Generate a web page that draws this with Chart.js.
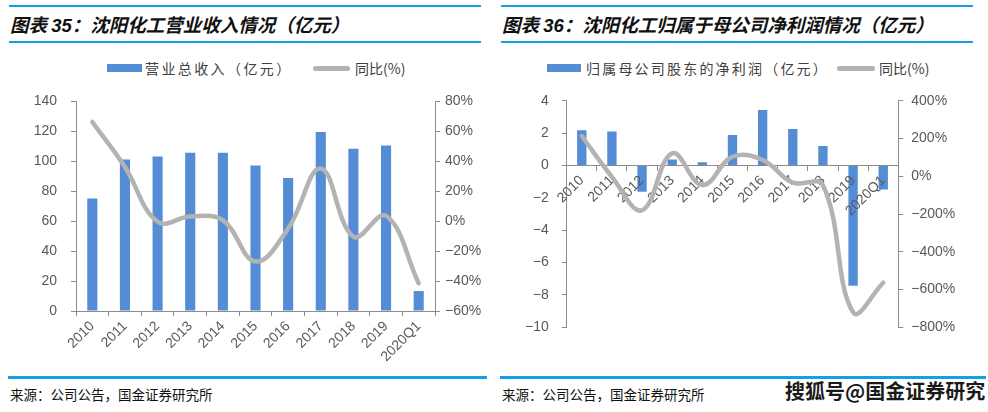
<!DOCTYPE html>
<html><head><meta charset="utf-8">
<script src="https://cdn.jsdelivr.net/npm/chart.js@4.4.0/dist/chart.umd.min.js"></script>
<style>
html,body{margin:0;padding:0;background:#fff;}
body{width:988px;height:412px;position:relative;overflow:hidden;font-family:"Noto Sans CJK SC","Noto Sans",sans-serif;}
.bl{position:absolute;background:#16a0e4;}
.title{position:absolute;font-weight:bold;font-style:italic;font-size:18.5px;line-height:24px;color:#111;white-space:nowrap;}
.title .n{font-family:"Liberation Sans",Arial,sans-serif;}
.leg{position:absolute;font-size:14px;line-height:18px;color:#404040;white-space:nowrap;}
.sw{position:absolute;}
.src{position:absolute;font-size:13.5px;line-height:18px;color:#111;white-space:nowrap;}
.wm{position:absolute;font-size:20px;font-weight:bold;line-height:24px;color:#1a1a1a;white-space:nowrap;text-shadow:0 0 2px #fff,0 0 2px #fff;}
canvas{position:absolute;}
</style>
</head><body>
<div class="bl" style="left:9px;top:5px;width:472px;height:2px"></div>
<div class="bl" style="left:9px;top:41px;width:472px;height:2px"></div>
<div class="bl" style="left:501px;top:5px;width:472px;height:2px"></div>
<div class="bl" style="left:501px;top:41px;width:472px;height:2px"></div>
<div class="title" style="left:10px;top:12px">图表 <span class="n">35</span>：沈阳化工营业收入情况（亿元）</div>
<div class="title" style="left:502px;top:12px">图表 <span class="n">36</span>：沈阳化工归属于母公司净利润情况（亿元）</div>

<div class="sw" style="left:107px;top:64px;width:35px;height:8px;background:#548dd6"></div>
<div class="leg" style="left:145px;top:59px;letter-spacing:2.4px">营业总收入（亿元）</div>
<div class="sw" style="left:313px;top:66px;width:37px;height:5px;border-radius:3px;background:#b3b3b3"></div>
<div class="leg" style="left:355px;top:59px">同比(%)</div>

<div class="sw" style="left:547px;top:64px;width:34px;height:8px;background:#548dd6"></div>
<div class="leg" style="left:586px;top:59px;letter-spacing:2.2px">归属母公司股东的净利润（亿元）</div>
<div class="sw" style="left:837px;top:66px;width:38px;height:5px;border-radius:3px;background:#b3b3b3"></div>
<div class="leg" style="left:879px;top:59px">同比(%)</div>

<canvas id="c1" width="494" height="285" style="left:0;top:90px;width:494px;height:285px"></canvas>
<canvas id="c2" width="494" height="285" style="left:494px;top:90px;width:494px;height:285px"></canvas>

<div class="bl" style="left:8px;top:376px;width:479px;height:3px"></div>
<div class="bl" style="left:500px;top:376px;width:486px;height:3px"></div>
<div class="src" style="left:10px;top:385px">来源：公司公告，国金证券研究所</div>
<div class="src" style="left:502px;top:385px">来源：公司公告，国金证券研究所</div>
<div class="wm" style="left:785px;top:379px">搜狐号@国金证券研究</div>

<script>
const categories = ['2010','2011','2012','2013','2014','2015','2016','2017','2018','2019','2020Q1'];
const revenue = [75, 101, 103, 105.5, 105.5, 97, 88.7, 119.3, 108.2, 110.4, 13.3];
const revenueYoY = [66, 36, -0.5, 3, 0.5, -27, -5, 35, -10.5, 3.5, -41.5];
const profit = [2.17, 2.1, -1.62, 0.37, 0.19, 1.88, 3.42, 2.25, 1.2, -7.44, -1.48];
const profitYoY = [213, -3, -180, 121, -47, 103, 86, -34, -47, -720, -564];
const revenueAxis = {min: 0, max: 140, step: 20};
const revenueYoYAxis = {min: -60, max: 80, step: 20};
const profitAxis = {min: -10, max: 4, step: 2};
const profitYoYAxis = {min: -800, max: 400, step: 200};

const BAR = '#548dd6', LINE = '#b3b3b3', AX = '#8c8c8c', TXT = '#595959';
const tickFont = {family: '"Liberation Sans", Arial, sans-serif', size: 14};
const fmt = v => (v < 0 ? '\u2212' + Math.abs(v) : String(v));
const fmtP = v => fmt(v) + '%';

// draw the line dataset last (above the x-axis labels that sit over the bars)
const lineOnTop = {
  id: 'lineOnTop',
  beforeDatasetDraw(chart, args) { if (chart.options.lineLast && args.index === 0) return false; },
  afterDraw(chart) {
    if (!chart.options.lineLast) return;
    const ctx = chart.ctx, a = chart.chartArea;
    ctx.save();
    ctx.beginPath(); ctx.rect(a.left, a.top - 4, a.right - a.left, a.bottom - a.top + 8); ctx.clip();
    chart.getDatasetMeta(0).controller.draw();
    ctx.restore();
  }
};

function makeChart(id, barLabel, barData, lineData, a1, a2, opts) {
  const xScale = {
    offset: true,
    grid: {offset: true, drawOnChartArea: false, drawTicks: true, tickLength: 5, color: AX},
    border: {color: AX, width: 1},
    ticks: {maxRotation: 45, minRotation: 45, autoSkip: false, color: TXT, font: tickFont, padding: opts.xPad}
  };
  if (opts.xAtZero) { xScale.position = {y: 0}; xScale.ticks.z = 1; }
  else xScale.afterFit = s => { s.height = opts.xHeight; };
  return new Chart(document.getElementById(id), {
    data: {
      labels: categories,
      datasets: [
        {type: 'line', label: '同比(%)', data: lineData, yAxisID: 'y1', borderColor: LINE, borderWidth: 4.5,
         pointRadius: 0, tension: 0.4, fill: false, order: 0, borderCapStyle: 'round'},
        {type: 'bar', label: barLabel, data: barData, yAxisID: 'y', backgroundColor: BAR,
         barPercentage: opts.barPct, categoryPercentage: 1, order: 1}
      ]
    },
    plugins: [lineOnTop],
    options: {
      lineLast: !!opts.xAtZero,
      responsive: false, animation: false, devicePixelRatio: 1,
      layout: {padding: opts.padding},
      plugins: {legend: {display: false}, tooltip: {enabled: false}},
      scales: {
        x: xScale,
        y: {position: 'left', min: a1.min, max: a1.max,
            ticks: {stepSize: a1.step, color: TXT, font: tickFont, padding: opts.yPad, callback: fmt},
            grid: {drawOnChartArea: false, tickLength: 5, color: AX}, border: {color: AX},
            afterFit: s => { s.width = opts.yWidth; s.paddingTop = 0; s.paddingBottom = 0; }},
        y1: {position: 'right', min: a2.min, max: a2.max,
            ticks: {stepSize: a2.step, color: TXT, font: tickFont, padding: opts.y1Pad, callback: fmtP},
            grid: {drawOnChartArea: false, tickLength: 5, color: AX}, border: {color: AX},
            afterFit: s => { s.width = opts.y1Width; s.paddingTop = 0; s.paddingBottom = 0; }}
      }
    }
  });
}

makeChart('c1', '营业总收入（亿元）', revenue, revenueYoY, revenueAxis, revenueYoYAxis, {
  padding: {top: 11, left: 0, right: 0, bottom: 0}, xHeight: 64, yWidth: 76, y1Width: 59,
  yPad: 14, y1Pad: 5, xPad: 2, barPct: 0.31, xAtZero: false
});
makeChart('c2', '归属母公司股东的净利润（亿元）', profit, profitYoY, profitAxis, profitYoYAxis, {
  padding: {top: 10.7, left: 0, right: 0, bottom: 47.7}, yWidth: 72.7, y1Width: 89.7,
  yPad: 13, y1Pad: 8, xPad: 2, barPct: 0.31, xAtZero: true
});
</script>
</body></html>
